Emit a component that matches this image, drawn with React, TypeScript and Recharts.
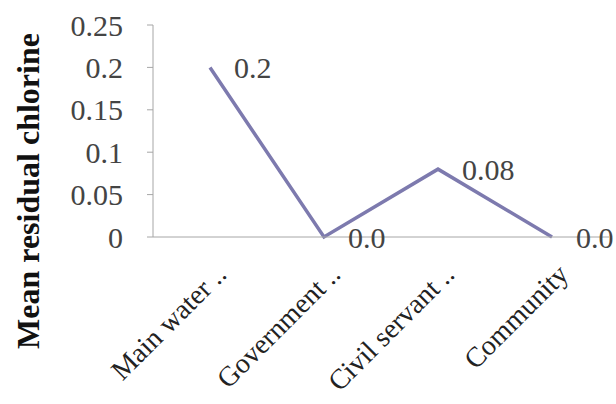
import React from 'react'
import { LineChart, Line, XAxis, YAxis, LabelList, Label } from 'recharts'

const sources = ['Main water ..', 'Government ..', 'Civil servant ..', 'Community']
const chlorine = [0.2, 0, 0.08, 0]
const yTicks = [0, 0.05, 0.1, 0.15, 0.2, 0.25]

const data = sources.map((source, i) => ({ source, chlorine: chlorine[i] }))

const serif = 'Liberation Serif, Times New Roman, DejaVu Serif, serif'

// rotated category names, anchored at their end just right of the point
const SourceTick = (props: any) => {
  const { x, y, payload } = props
  const ax = x + 18
  const ay = y + 33
  return (
    <text
      x={ax}
      y={ay}
      transform={`rotate(-45, ${ax}, ${ay})`}
      textAnchor="end"
      style={{ fontSize: 28, fontFamily: serif }}
      fill="#222"
    >
      {payload.value}
    </text>
  )
}

const formatValue = (v: any) => (Number(v) === 0 ? '0.0' : String(v))

export default function App() {
  return (
    <div style={{ position: 'absolute', left: 0, top: 0, background: '#fff', fontFamily: serif }}>
      <LineChart
        width={616}
        height={404}
        data={data}
        margin={{ top: 25, right: 7, left: 0, bottom: 0 }}
        style={{ fontFamily: serif }}
      >
        <XAxis
          dataKey="source"
          interval={0}
          height={167}
          padding={{ left: 57, right: 57 }}
          tickLine={false}
          tickMargin={0}
          stroke="#a6a6a6"
          tick={<SourceTick />}
        />
        <YAxis
          width={153}
          domain={[0, 0.25]}
          ticks={yTicks}
          tickSize={6}
          tickMargin={24}
          stroke="#a6a6a6"
          tick={{ fontSize: 30, fill: '#444', style: { fontFamily: serif } }}
        >
          <Label
            content={() => (
              <text
                x={39}
                y={191}
                transform="rotate(-90, 39, 191)"
                textAnchor="middle"
                style={{ fontSize: 32, fontWeight: 'bold', fontFamily: serif }}
                fill="#111"
              >
                Mean residual chlorine
              </text>
            )}
          />
        </YAxis>
        <Line
          type="linear"
          dataKey="chlorine"
          stroke="#7d7aae"
          strokeWidth={3.5}
          dot={false}
          isAnimationActive={false}
        >
          <LabelList
            dataKey="chlorine"
            position="right"
            offset={24}
            formatter={formatValue}
            fontSize={30}
            fill="#444"
            style={{ fontFamily: serif }}
          />
        </Line>
      </LineChart>
    </div>
  )
}
